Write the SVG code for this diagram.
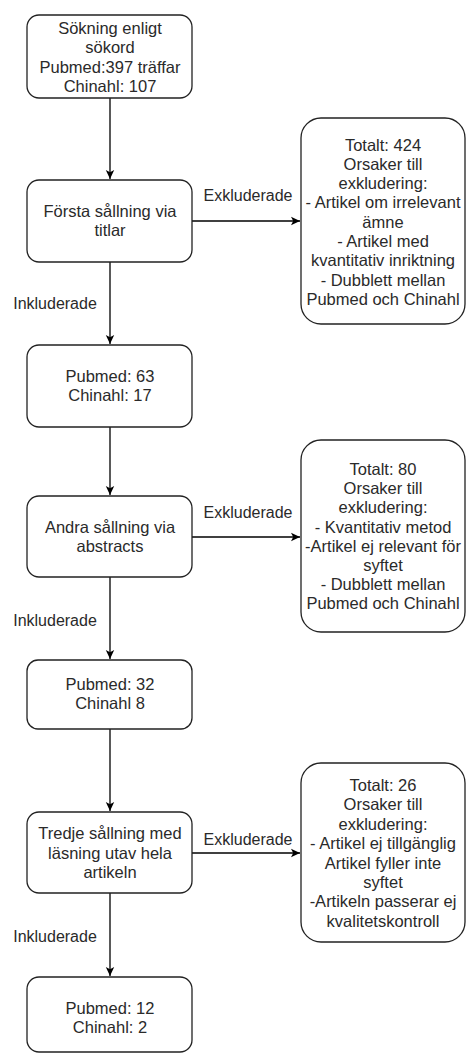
<svg xmlns="http://www.w3.org/2000/svg" width="467" height="1053" viewBox="0 0 467 1053">
<style>
.box{fill:#fff;stroke:#222;stroke-width:1.3}
.t{font-family:"Liberation Sans",Arial,sans-serif;font-size:16.5px;fill:#2a2a2a;text-anchor:middle}
.lbl{font-family:"Liberation Sans",Arial,sans-serif;font-size:16px;fill:#2a2a2a;text-anchor:middle}
.edge{stroke:#000;stroke-width:1.3;fill:none;marker-end:url(#arr)}
</style>
<defs>
<marker id="arr" markerWidth="10" markerHeight="10" refX="9" refY="5" orient="auto" markerUnits="userSpaceOnUse">
<path d="M0,0.8 L9,5 L0,9.2 L2.2,5 Z" fill="#000"/>
</marker>
</defs>
<rect width="467" height="1053" fill="#fff"/>
<g id="connectors">
<path class="edge" d="M110,98 V179"/>
<path class="edge" d="M110,262 V344"/>
<path class="edge" d="M110,427 V495"/>
<path class="edge" d="M110,577 V659"/>
<path class="edge" d="M110,729 V811"/>
<path class="edge" d="M110,893 V976"/>
<path class="edge" d="M192,221 H300"/>
<path class="edge" d="M192,537 H300"/>
<path class="edge" d="M192,853 H300"/>
<text class="lbl" x="248" y="201">Exkluderade</text>
<text class="lbl" x="248" y="518">Exkluderade</text>
<text class="lbl" x="248" y="845">Exkluderade</text>
<text class="lbl" x="55" y="309">Inkluderade</text>
<text class="lbl" x="55" y="626">Inkluderade</text>
<text class="lbl" x="55" y="942">Inkluderade</text>
</g>
<g id="n1">
<rect class="box" x="27" y="15" width="165" height="83" rx="12"/>
<text class="t" x="110"><tspan x="110" y="33.5">Sökning enligt</tspan><tspan x="110" y="53">sökord</tspan><tspan x="110" y="72.5">Pubmed:397 träffar</tspan><tspan x="110" y="92">Chinahl: 107</tspan></text>
</g>
<g id="n2">
<rect class="box" x="27" y="180" width="165" height="82" rx="12"/>
<text class="t"><tspan x="110" y="217">Första sållning via</tspan><tspan x="110" y="236">titlar</tspan></text>
</g>
<g id="n3">
<rect class="box" x="27" y="345" width="165" height="82" rx="12"/>
<text class="t"><tspan x="110" y="382">Pubmed: 63</tspan><tspan x="110" y="401">Chinahl: 17</tspan></text>
</g>
<g id="n4">
<rect class="box" x="27" y="496" width="165" height="81" rx="12"/>
<text class="t"><tspan x="110" y="532.5">Andra sållning via</tspan><tspan x="110" y="551.5">abstracts</tspan></text>
</g>
<g id="n5">
<rect class="box" x="27" y="660" width="165" height="69" rx="11"/>
<text class="t"><tspan x="110" y="690">Pubmed: 32</tspan><tspan x="110" y="709">Chinahl 8</tspan></text>
</g>
<g id="n6">
<rect class="box" x="27" y="812" width="165" height="81" rx="12"/>
<text class="t"><tspan x="110" y="839">Tredje sållning med</tspan><tspan x="110" y="858.5">läsning utav hela</tspan><tspan x="110" y="878">artikeln</tspan></text>
</g>
<g id="n7">
<rect class="box" x="27" y="977" width="165" height="75" rx="12"/>
<text class="t"><tspan x="110" y="1014">Pubmed: 12</tspan><tspan x="110" y="1033">Chinahl: 2</tspan></text>
</g>
<g id="r1">
<rect class="box" x="301" y="118" width="164" height="206" rx="20"/>
<text class="t"><tspan x="383" y="150.5">Totalt: 424</tspan><tspan x="383" y="169.8">Orsaker till</tspan><tspan x="383" y="189.1">exkludering:</tspan><tspan x="383" y="208.4">- Artikel om irrelevant</tspan><tspan x="383" y="227.7">ämne</tspan><tspan x="383" y="247">- Artikel med</tspan><tspan x="383" y="266.3">kvantitativ inriktning</tspan><tspan x="383" y="285.6">- Dubblett mellan</tspan><tspan x="383" y="304.9">Pubmed och Chinahl</tspan></text>
</g>
<g id="r2">
<rect class="box" x="301" y="440" width="164" height="192" rx="20"/>
<text class="t"><tspan x="383" y="475">Totalt: 80</tspan><tspan x="383" y="494.2">Orsaker till</tspan><tspan x="383" y="513.4">exkludering:</tspan><tspan x="383" y="532.6">- Kvantitativ metod</tspan><tspan x="383" y="551.8">-Artikel ej relevant för</tspan><tspan x="383" y="571">syftet</tspan><tspan x="383" y="590.2">- Dubblett mellan</tspan><tspan x="383" y="609.4">Pubmed och Chinahl</tspan></text>
</g>
<g id="r3">
<rect class="box" x="301" y="763" width="164" height="179" rx="20"/>
<text class="t"><tspan x="383" y="791">Totalt: 26</tspan><tspan x="383" y="810.4">Orsaker till</tspan><tspan x="383" y="829.8">exkludering:</tspan><tspan x="383" y="849.2">- Artikel ej tillgänglig</tspan><tspan x="383" y="868.6">Artikel fyller inte</tspan><tspan x="383" y="888">syftet</tspan><tspan x="383" y="907.4">-Artikeln passerar ej</tspan><tspan x="383" y="926.8">kvalitetskontroll</tspan></text>
</g>
</svg>
